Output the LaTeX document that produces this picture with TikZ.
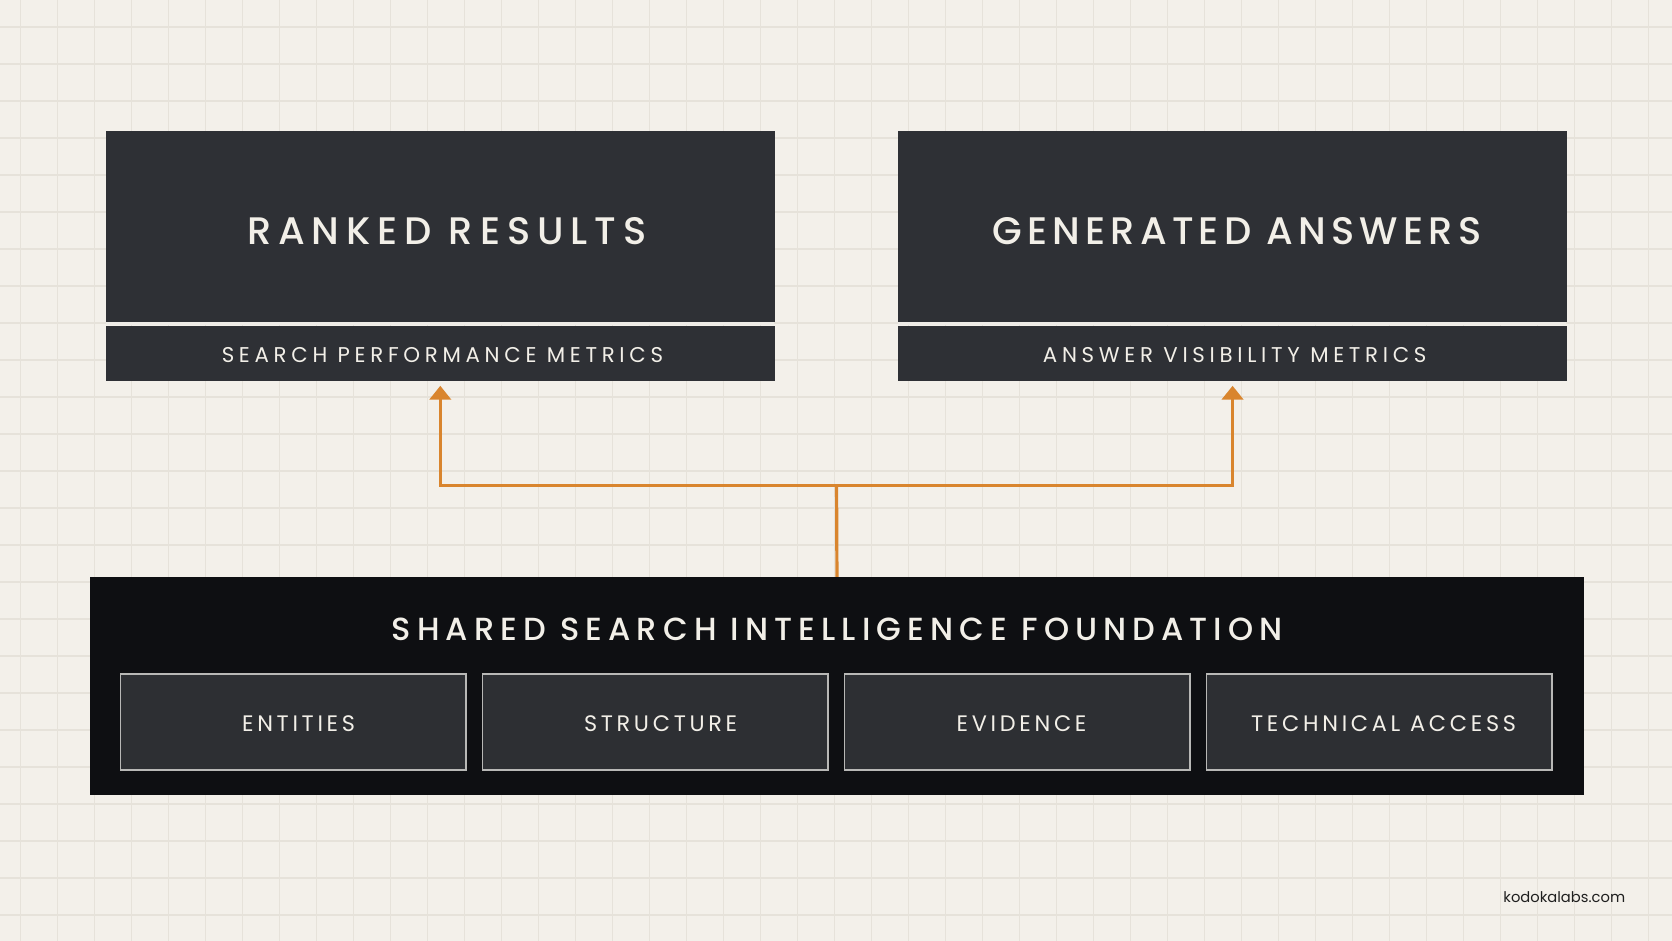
\documentclass[tikz,border=0pt]{standalone}
\usepackage{fontspec}
\setmainfont{Poppins}
\newfontfamily\trackT[LetterSpace=13.6]{Poppins Medium}
\newfontfamily\trackTR[LetterSpace=18]{Poppins Medium}
\newfontfamily\trackF[LetterSpace=19]{Poppins Medium}
\newfontfamily\trackM[LetterSpace=22]{Poppins}
\newfontfamily\trackS[LetterSpace=16.5]{Poppins}
\usetikzlibrary{arrows.meta}
\definecolor{bg}{HTML}{F3F0EA}
\definecolor{gridc}{HTML}{E6E2DA}
\definecolor{sepc}{HTML}{EEECE7}
\definecolor{boxc}{HTML}{2E3035}
\definecolor{foundc}{HTML}{0E0F12}
\definecolor{subc}{HTML}{2D2F33}
\definecolor{subline}{HTML}{B8B8B6}
\definecolor{txt}{HTML}{F2EFE8}
\definecolor{orng}{HTML}{D9852E}
\tikzset{
  upbox/.style={fill=boxc, draw=none, inner sep=0pt, minimum width=313.5pt, anchor=north west},
  titlebox/.style={upbox, minimum height=90pt},
  metricbox/.style={upbox, minimum height=26pt},
  titletext/.style={text=txt, inner sep=0pt, font=\trackT\fontsize{18}{20}\selectfont},
  metrictext/.style={text=txt, inner sep=0pt, font=\trackM\fontsize{10}{12}\selectfont},
  foundbox/.style={fill=foundc, draw=none, inner sep=0pt, minimum width=700.5pt, minimum height=102pt, anchor=north west},
  subbox/.style={fill=subc, draw=subline, line width=0.6pt, inner sep=0pt, minimum width=162pt, minimum height=45pt},
  subtext/.style={text=txt, inner sep=0pt, font=\trackS\fontsize{10.5}{12}\selectfont},
  conn/.style={draw=orng, line width=1.5pt},
  tip/.style={-{Triangle[width=10pt,length=6.5pt]}}
}
\begin{document}
\begin{tikzpicture}[x=0.5pt,y=-0.5pt]
\useasboundingbox (0,0) rectangle (1568,882);
\fill[bg] (0,0) rectangle (1568,882);
\foreach \i in {0,...,45} \draw[gridc, line width=0.5pt] (18.8+34.7*\i,0) -- (18.8+34.7*\i,882);
\foreach \j in {0,...,25} \draw[gridc, line width=0.5pt] (0,25.3+34.7*\j) -- (1568,25.3+34.7*\j);

\fill[sepc] (99,302) rectangle (726,305);
\fill[sepc] (842,302) rectangle (1469,305);

\node[titlebox] (rrt) at (99,122) {};
\node[metricbox] (rrm) at (99,305) {};
\node[titlebox] (gat) at (842,122) {};
\node[metricbox] (gam) at (842,305) {};
\node[titletext, font=\trackTR\fontsize{18}{20}\selectfont] (rrtl) at ([xshift=3pt,yshift=-2pt]rrt.center) {RANKED RESULTS};
\node[metrictext] (rrml) at ([xshift=1pt,yshift=-1pt]rrm.center) {SEARCH PERFORMANCE METRICS};
\node[titletext] (gatl) at ([xshift=2pt,yshift=-2pt]gat.center) {GENERATED ANSWERS};
\node[metrictext] (gaml) at ([xshift=1pt,yshift=-1pt]gam.center) {ANSWER VISIBILITY METRICS};

\node[foundbox] (found) at (84,541) {};
\node[text=txt, inner sep=0pt, font=\trackF\fontsize{15}{18}\selectfont] (foundt) at (785,590) {SHARED SEARCH INTELLIGENCE FOUNDATION};
\node[subbox] (s1) at (275,677) {};
\node[subbox] (s2) at (614.5,677) {};
\node[subbox] (s3) at (954,677) {};
\node[subbox] (s4) at (1293.5,677) {};
\node[subtext] (s1l) at ([xshift=2.5pt,yshift=-1pt]s1.center) {ENTITIES};
\node[subtext] (s2l) at ([xshift=2.5pt,yshift=-1pt]s2.center) {STRUCTURE};
\node[subtext] (s3l) at ([xshift=2pt,yshift=-1pt]s3.center) {EVIDENCE};
\node[subtext] (s4l) at ([xshift=2pt,yshift=-1pt]s4.center) {TECHNICAL ACCESS};

\coordinate (junc) at (784.5,455);
\draw[conn] (found.north) -- (junc);
\draw[conn,tip,shorten >=2pt] (junc) -| (rrm.south);
\draw[conn,tip,shorten >=2pt] (junc) -| (gam.south);

\node[text=black!88, font=\fontsize{6.9}{9}\selectfont, inner sep=0pt] (url) at (1467,841) {kodokalabs.com};
\end{tikzpicture}
\end{document}
